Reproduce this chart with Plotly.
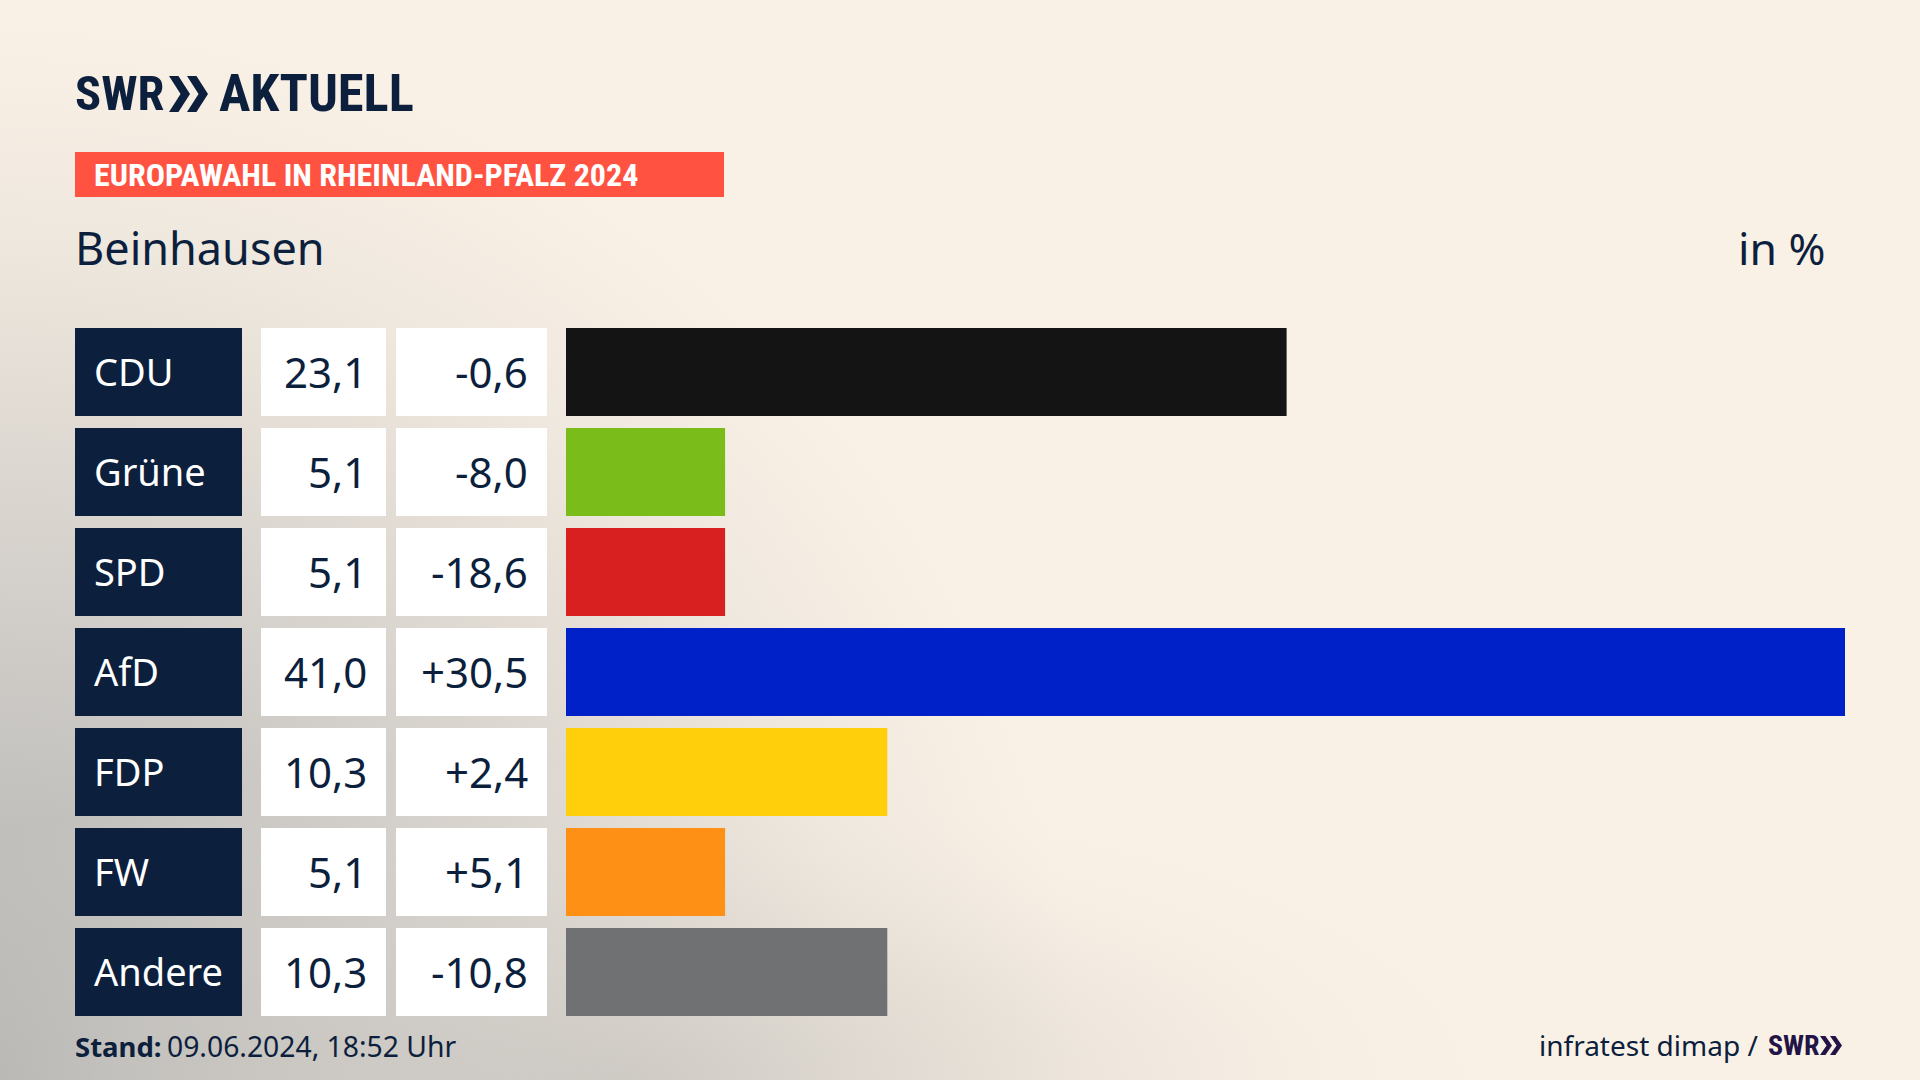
import base64
import plotly.graph_objects as go

W, H = 1920, 1080

parties = ["CDU", "Grüne", "SPD", "AfD", "FDP", "FW", "Andere"]
shares = [23.1, 5.1, 5.1, 41.0, 10.3, 5.1, 10.3]
share_labels = ["23,1", "5,1", "5,1", "41,0", "10,3", "5,1", "10,3"]
diff_labels = ["-0,6", "-8,0", "-18,6", "+30,5", "+2,4", "+5,1", "-10,8"]
bar_colors = ["#141414", "#7ABD1A", "#D7201F", "#0021C8", "#FFCF0B", "#FF9016", "#707173"]

NAVY = "#0C1F3D"
BODY = "Noto Sans"
COND = "Roboto Condensed"


def px(x):
    return x / W


def py(y):
    return 1 - y / H


svg = f"""<svg xmlns='http://www.w3.org/2000/svg' width='{W}' height='{H}' viewBox='0 0 {W} {H}'>
<defs>
<radialGradient id='g' gradientUnits='userSpaceOnUse' cx='0' cy='0' r='1'
 gradientTransform='translate(0 1080) scale(1080 1060)'>
<stop offset='0' stop-color='#AEAEAD'/>
<stop offset='0.3' stop-color='#C6C4C1'/>
<stop offset='0.55' stop-color='#DAD5CF'/>
<stop offset='0.8' stop-color='#EFE8DE'/>
<stop offset='1' stop-color='#FAF1E6'/>
</radialGradient>
<radialGradient id='h' gradientUnits='userSpaceOnUse' cx='0' cy='0' r='1'
 gradientTransform='translate(620 1080) scale(960 320)'>
<stop offset='0' stop-color='#C8C4BF' stop-opacity='0.7'/>
<stop offset='0.45' stop-color='#D6D1CA' stop-opacity='0.4'/>
<stop offset='0.75' stop-color='#E6E0D8' stop-opacity='0.15'/>
<stop offset='1' stop-color='#FAF1E6' stop-opacity='0'/>
</radialGradient>
</defs>
<rect width='{W}' height='{H}' fill='#FAF1E6'/>
<rect width='{W}' height='{H}' fill='url(#g)'/>
<rect width='{W}' height='{H}' fill='url(#h)'/>
</svg>"""
bg_uri = "data:image/svg+xml;base64," + base64.b64encode(svg.encode()).decode()

fig = go.Figure(
    go.Bar(
        y=parties,
        x=shares,
        orientation="h",
        marker=dict(color=bar_colors, line=dict(width=0)),
        hoverinfo="skip",
    )
)

ROW_TOP, ROW_PITCH = 322.0, 100.0
fig.update_layout(
    width=W,
    height=H,
    autosize=False,
    margin=dict(l=0, r=0, t=0, b=0),
    paper_bgcolor="#FAF1E6",
    plot_bgcolor="rgba(0,0,0,0)",
    showlegend=False,
    bargap=0.12,
    xaxis=dict(domain=[px(566), px(1845)], range=[0, 41.0], visible=False, fixedrange=True),
    yaxis=dict(
        domain=[py(ROW_TOP + ROW_PITCH * len(parties)), py(ROW_TOP)],
        autorange="reversed",
        type="category",
        categoryorder="array",
        categoryarray=parties,
        visible=False,
        fixedrange=True,
    ),
    images=[
        dict(source=bg_uri, xref="paper", yref="paper", x=0, y=1, sizex=1, sizey=1,
             sizing="stretch", xanchor="left", yanchor="top", layer="below")
    ],
)

shapes = []
annotations = []


def box(x0, x1, y0, y1, color):
    shapes.append(dict(type="rect", xref="paper", yref="paper", x0=px(x0), x1=px(x1),
                       y0=py(y0), y1=py(y1), fillcolor=color, line=dict(width=0), layer="below"))


def text(s, x, y, size, color=NAVY, family=BODY, anchor="left"):
    annotations.append(dict(text=s, xref="paper", yref="paper", x=px(x), y=py(y), xanchor=anchor,
                            yanchor="middle", showarrow=False, align=anchor,
                            font=dict(size=size, color=color, family=family), borderpad=0, borderwidth=0))


def chevrons(x0, y0, y1, w, gap, color):
    for k in range(2):
        xa = x0 + k * gap
        ym = (y0 + y1) / 2
        path = (f"M {px(xa)} {py(y0)} L {px(xa + w * 0.45)} {py(y0)} L {px(xa + w)} {py(ym)} "
                f"L {px(xa + w * 0.45)} {py(y1)} L {px(xa)} {py(y1)} L {px(xa + w * 0.55)} {py(ym)} Z")
        shapes.append(dict(type="path", xref="paper", yref="paper", path=path, fillcolor=color,
                           line=dict(width=0)))


for i, party in enumerate(parties):
    top = ROW_TOP + i * ROW_PITCH + 6
    bot = top + 88
    mid = (top + bot) / 2 - 1
    box(75, 242, top, bot, NAVY)
    box(261, 386, top, bot, "#FFFFFF")
    box(396, 547, top, bot, "#FFFFFF")
    text(party, 94, mid, 38, "#FFFFFF")
    text(share_labels[i], 367, mid, 42, anchor="right")
    text(diff_labels[i], 528, mid, 42, anchor="right")

# header
text("<b>SWR</b>", 75, 93, 48.5, family=COND)
chevrons(169, 76, 112, 21, 18, NAVY)
text("<b>AKTUELL</b>", 219, 93, 52.5, family=COND)
box(75, 724, 152, 197, "#FF5240")
text("<b>EUROPAWAHL IN RHEINLAND-PFALZ 2024</b>", 94, 175, 32, "#FFFFFF", COND)
text("Beinhausen", 75, 247, 45)
text("in %", 1826, 247, 44.5, anchor="right")

# footer
text("<b>Stand:</b>", 75, 1046, 27.5)
text("09.06.2024, 18:52 Uhr", 167, 1046, 28.3)
text("infratest dimap /", 1539, 1045, 28)
text("<b>SWR</b>", 1768, 1045, 28, "#231447", COND)
chevrons(1820, 1036, 1055, 12, 10, "#231447")

fig.update_layout(shapes=shapes, annotations=annotations)

fig.write_html(
    "out.html",
    config=dict(displayModeBar=False, staticPlot=True),
    post_script="document.body.style.margin='0';document.body.style.overflow='hidden';",
)
